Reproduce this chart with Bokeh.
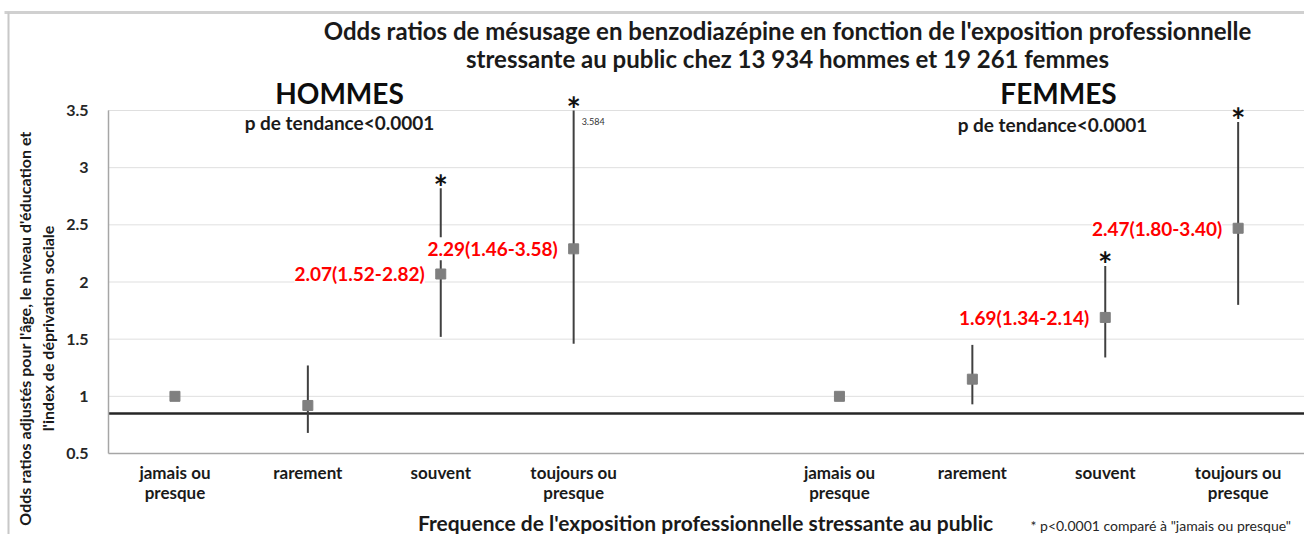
from bokeh.plotting import figure
from bokeh.models import FixedTicker
from bokeh.core.properties import value
from bokeh.embed import file_html
from bokeh.resources import INLINE
import math

# ---- data ----
categories = ["jamais ou\npresque", "rarement", "souvent", "toujours ou\npresque"]
groups = ["HOMMES", "FEMMES"]
or_hommes = [1.00, 0.92, 2.07, 2.29]
lo_hommes = [None, 0.68, 1.52, 1.46]
hi_hommes = [None, 1.27, 2.82, 3.584]
or_femmes = [1.00, 1.15, 1.69, 2.47]
lo_femmes = [None, 0.93, 1.34, 1.80]
hi_femmes = [None, 1.45, 2.14, 3.40]
significant = [False, False, True, True]
shown_value = [False, False, True, True]
p_trend = "p de tendance<0.0001"
reference_line = 0.85
y_ticks = [0.5, 1, 1.5, 2, 2.5, 3, 3.5]
y_tick_labels = ["0.5", "1", "1.5", "2", "2.5", "3", "3.5"]

title_lines = ["Odds ratios de mésusage en benzodiazépine en fonction de l'exposition professionnelle",
               "stressante au public chez 13 934 hommes et 19 261 femmes"]
y_title = ["Odds ratios adjustés pour l'âge, le niveau d'éducation et",
           "l'index de déprivation sociale"]
x_title = "Frequence de l'exposition professionnelle stressante au public"
footnote = "* p<0.0001 comparé à \"jamais ou presque\""

FONT = "Lato"
YMIN, YMAX = 0.5, 3.5
W, H = 1304, 534
AX_L, AX_T, AX_B = 108, 110, 453     # plot-area edges in page pixels
slot = 132.9
XMIN = -0.5
ppu = (AX_B - AX_T) / (YMAX - YMIN)

def px2x(px):
    return XMIN + (px - AX_L) / slot

def px2y(py):
    return YMIN + (AX_B - py) / ppu

XMAX = px2x(W)

p = figure(width=W, height=H, output_backend="svg", toolbar_location=None,
           x_range=(px2x(0), px2x(W)), y_range=(px2y(H), px2y(0)),
           min_border=0, min_border_left=0, min_border_right=0,
           min_border_top=0, min_border_bottom=0)
p.outline_line_color = None
p.background_fill_color = "white"
p.border_fill_color = "white"
p.grid.visible = False

# y axis drawn inside at the plot-area edge
p.yaxis.fixed_location = XMIN
p.yaxis.bounds = (YMIN, YMAX)
p.yaxis.ticker = FixedTicker(ticks=y_ticks)
p.yaxis.major_label_overrides = {t: l for t, l in zip(y_ticks, y_tick_labels)}
p.yaxis.axis_line_color = "#a6a6a6"
p.yaxis.axis_line_width = 1.5
p.yaxis.major_tick_line_color = None
p.yaxis.minor_tick_line_color = None
p.yaxis.major_label_text_font = FONT
p.yaxis.major_label_text_font_style = "bold"
p.yaxis.major_label_text_font_size = "16px"
p.yaxis.major_label_text_color = "#262626"
p.yaxis.major_label_standoff = 14

p.xaxis.fixed_location = YMIN
p.xaxis.bounds = (XMIN, XMAX)
p.xaxis.ticker = FixedTicker(ticks=[])
p.xaxis.axis_line_color = "#a6a6a6"
p.xaxis.axis_line_width = 1.5
p.xaxis.major_tick_line_color = None
p.xaxis.minor_tick_line_color = None
p.xaxis.major_label_text_font_size = "0px"

# dotted horizontal gridlines across the plot area
grid_y = y_ticks[1:]
p.segment(x0=[XMIN] * len(grid_y), y0=grid_y, x1=[XMAX] * len(grid_y), y1=grid_y,
          line_color="#bfbfbf", line_width=1, line_dash="1 1")
# reference line
p.segment(x0=[XMIN], y0=[reference_line], x1=[XMAX], y1=[reference_line],
          line_color="#262626", line_width=2.5)

# outer chart border (decorative)
p.segment(x0=[px2x(4)], y0=[px2y(12)], x1=[px2x(W)], y1=[px2y(12)], line_color="#d0d0d0", line_width=3)
p.segment(x0=[px2x(8)], y0=[px2y(12)], x1=[px2x(8)], y1=[px2y(H)], line_color="#c8c8c8", line_width=2)

def txt(x, y, text, size, color="#1a1a1a", bold=True, align="center", baseline="middle",
        angle=0, bg=None, xo=0, yo=0):
    p.text(x=[x], y=[y], text=[text], text_font=value(FONT), text_font_size=f"{size}px",
           text_font_style="bold" if bold else "normal", text_color=color,
           text_align=align, text_baseline=baseline, angle=angle,
           background_fill_color=bg, x_offset=xo, y_offset=yo)

series = [(0, or_hommes, lo_hommes, hi_hommes), (5, or_femmes, lo_femmes, hi_femmes)]
for start, ors, los, his in series:
    xs = [start + i for i in range(len(categories))]
    seg_x = [x for x, lo in zip(xs, los) if lo is not None]
    seg_lo = [lo for lo in los if lo is not None]
    seg_hi = [min(hi, YMAX) for hi in his if hi is not None]
    p.segment(x0=seg_x, y0=seg_lo, x1=seg_x, y1=seg_hi, line_color="#404040", line_width=2)
    p.scatter(x=xs, y=ors, marker="square", size=10, fill_color="#7f7f7f", line_color="#7f7f7f")

for start, ors, los, his in series:
    xs = [start + i for i in range(len(categories))]
    for x, o, lo, hi, sig, sv in zip(xs, ors, los, his, significant, shown_value):
        if sv:
            txt(x, o, f"{o:.2f}({lo:.2f}-{hi:.2f})", 19, color="#ff0000", align="right",
                bg="white", xo=-16)
        if sig:
            txt(x, min(hi, YMAX), "*", 34, color="#111111", baseline="middle", yo=-2)
    for x, c in zip(xs, categories):
        for k, line in enumerate(c.split("\n")):
            txt(x, px2y(472 + 20 * k), line, 17)

# small "3.584" label next to the truncated bar
txt(3, YMAX, f"{hi_hommes[3]:.3f}", 9, bold=False, align="left", color="#333333", xo=8, yo=11)

# group headers
txt(px2x(339), px2y(92), groups[0], 28, color="#0d0d0d")
txt(px2x(1058), px2y(92), groups[1], 28, color="#0d0d0d")
txt(px2x(339), px2y(122), p_trend, 19)
txt(px2x(1052), px2y(124), p_trend, 19)

# title
txt(px2x(787), px2y(30), title_lines[0], 24)
txt(px2x(787), px2y(58), title_lines[1], 24)

# y title (rotated)
txt(px2x(24), px2y(328), y_title[0], 16, angle=math.pi / 2)
txt(px2x(47), px2y(328), y_title[1], 16, angle=math.pi / 2)

# x title and footnote
txt(px2x(705), px2y(522), x_title, 21)
txt(px2x(1030), px2y(525), footnote, 14, bold=False, align="left", color="#262626")

open("out.html", "w").write(file_html(p, INLINE))
